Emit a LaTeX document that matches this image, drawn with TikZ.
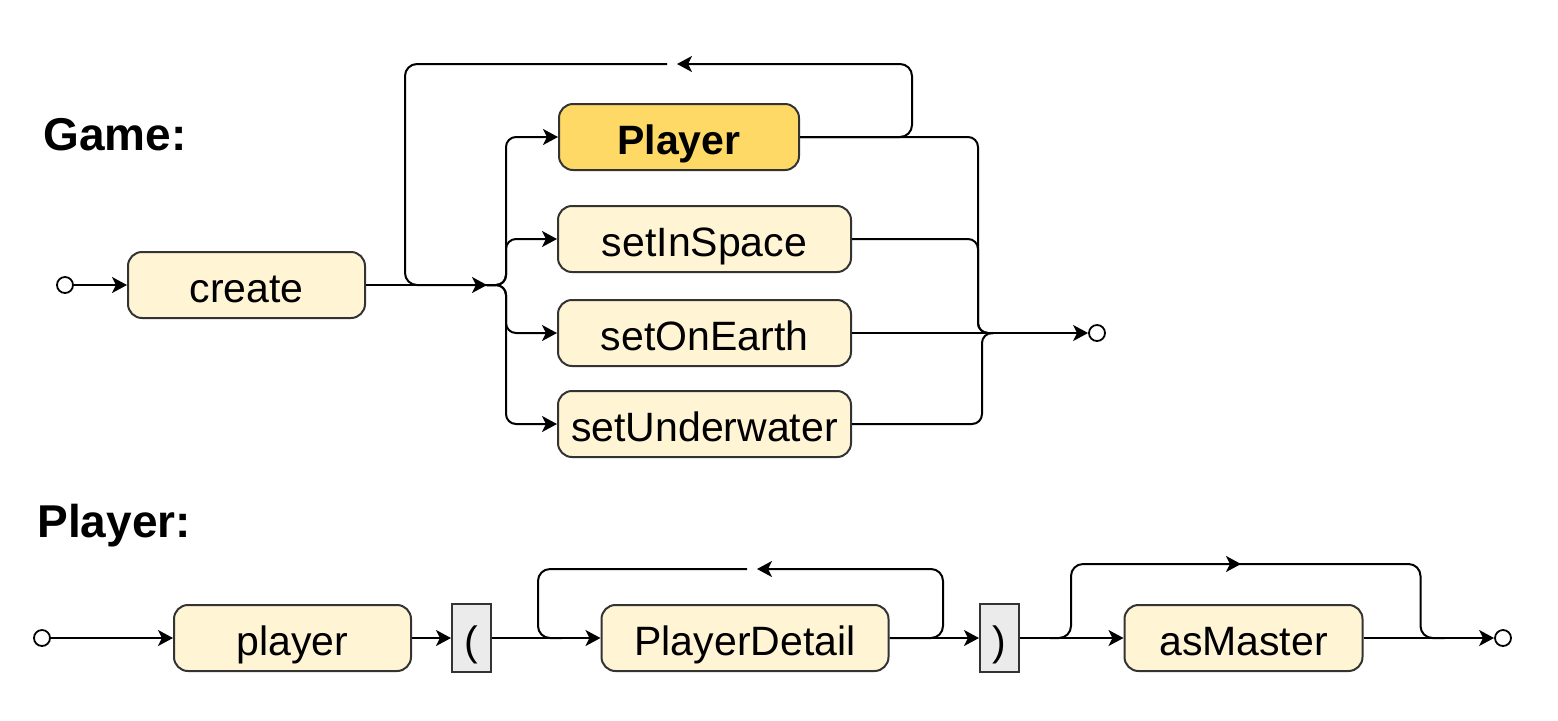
\documentclass[tikz,border=0pt]{standalone}
\usepackage{fontspec}
\setmainfont{Liberation Sans}
\usetikzlibrary{arrows.meta,calc}
\definecolor{termFill}{HTML}{FFF4D4}
\definecolor{refFill}{HTML}{FFD966}
\definecolor{litFill}{HTML}{EBEBEB}
\definecolor{edgeGray}{HTML}{333333}

\begin{document}
\begin{tikzpicture}[x=0.5pt, y=-0.5pt,
    conn/.style={line width=1pt, rounded corners=6pt},
    flow/.style={conn, -{Stealth[length=7.5pt,width=8pt,inset=2pt]}},
    rule/.style={font=\fontsize{23}{27}\selectfont\bfseries, anchor=base west, inner sep=0pt},
    term/.style={draw=edgeGray, line width=1pt, rounded corners=7pt, fill=termFill,
      minimum height=33pt, inner sep=0pt, text height=19pt, text depth=2pt,
      font=\fontsize{20.5}{24}\selectfont},
    nonterm/.style={term, fill=refFill, font=\fontsize{20.5}{24}\selectfont\bfseries},
    lit/.style={term, rounded corners=0pt, fill=litFill, minimum width=19.5pt, minimum height=34pt},
    endpt/.style={circle, draw, line width=0.9pt, fill=white, minimum size=8pt, inner sep=0pt}]
  \useasboundingbox (0,0) rectangle (1558,720);

  % --- Game rule ---
  \node[rule] (gameLbl) at (43,150) {Game:};
  \node[endpt] (gStart) at (65,285) {};
  \node[term, minimum width=118.5pt] (create) at (246.5,285) {create};
  \coordinate (gSplit) at (487,285);
  \node[nonterm, anchor=west, minimum width=120pt] (gPlayer) at (558,137) {Player};
  \node[term, anchor=west, minimum width=146.5pt] (inSpace) at (557,239) {setInSpace};
  \node[term, anchor=west, minimum width=146.5pt] (onEarth) at (557,333) {setOnEarth};
  \node[term, anchor=west, minimum width=146.5pt] (underWater) at (557,424) {setUnderwater};
  \coordinate (gMerge) at (993,333);
  \node[endpt] (gEnd) at (1097,333) {};
  \coordinate (gLoop) at (677,64);

  \draw[flow] (gStart) -- (create);
  \draw[flow] (create) -- (gSplit);
  % repeat loop over the choice
  \draw[flow] (gPlayer.east) -| ($(gLoop)+(235,0)$) -- (gLoop);
  \draw[conn] ($(gLoop)+(-10,0)$) -| ($(gSplit)+(-82,0)$) -- (gSplit);
  % split into the four choices
  \draw[flow, rounded corners=5pt] (gSplit) -- ++(19,0) |- (gPlayer.west);
  \draw[flow, rounded corners=5pt] (gSplit) -- ++(19,0) |- (inSpace.west);
  \draw[flow, rounded corners=5pt] (gSplit) -- ++(19,0) |- (onEarth.west);
  \draw[flow, rounded corners=5pt] (gSplit) -- ++(19,0) |- (underWater.west);
  % merge again
  \draw[conn, rounded corners=5pt] (gPlayer.east) -| ($(gMerge)+(-15,0)$) -- (gMerge);
  \draw[conn, rounded corners=5pt] (inSpace.east) -| ($(gMerge)+(-15,0)$) -- (gMerge);
  \draw[conn] (onEarth.east) -- (gMerge);
  \draw[conn, rounded corners=5pt] (underWater.east) -| ($(gMerge)+(-11,0)$) -- (gMerge);
  \draw[flow] (gMerge) -- (gEnd);

  % --- Player rule ---
  \node[rule] (playerLbl) at (37,537) {Player:};
  \node[endpt] (pStart) at (42,638) {};
  \node[term, minimum width=118.5pt] (player) at (292.5,638) {player};
  \node[lit] (lParen) at (471.5,638) {(};
  \node[term, minimum width=143.5pt] (detail) at (745,638) {PlayerDetail};
  \node[lit] (rParen) at (999.5,638) {)};
  \node[term, minimum width=119pt] (master) at (1243.5,638) {asMaster};
  \node[endpt] (pEnd) at (1503,638) {};
  \coordinate (pLoop) at (757,569);
  \coordinate (pSkip) at (1241,564);

  \draw[flow] (pStart) -- (player);
  \draw[flow] (player) -- (lParen);
  \draw[flow] (lParen) -- (detail);
  % repeat PlayerDetail
  \draw[flow] (detail.east) -| ($(pLoop)+(186,0)$) -- (pLoop);
  \draw[conn] ($(pLoop)+(-10,0)$) -| ($(lParen.east)+(46,0)$) -- ++(24,0);
  \draw[flow] (detail) -- (rParen);
  \draw[flow] (rParen) -- (master);
  % optional asMaster
  \draw[flow] ($(rParen.east)+(30,0)$) -| ($(pSkip)+(-170,0)$) -- (pSkip);
  \draw[conn] ($(pSkip)+(-10,0)$) -| ($(master.east)+(57,0)$) -- ++(24,0);
  \draw[flow] (master) -- (pEnd);
\end{tikzpicture}
\end{document}
